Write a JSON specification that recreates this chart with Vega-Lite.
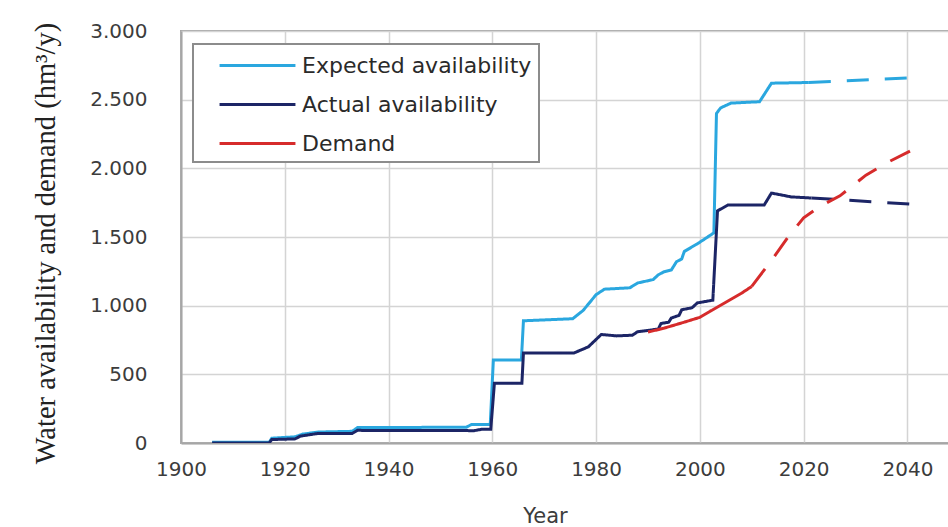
{
  "$schema": "https://vega.github.io/schema/vega-lite/v6.json",
  "autosize": "none",
  "width": 770,
  "height": 412,
  "padding": {"left": 181, "top": 31, "right": 0, "bottom": 84},
  "background": "white",
  "config": {
    "view": {"stroke": "#a6a6a6", "strokeWidth": 2},
    "legend": {"strokeWidth": 2},
    "axis": {
      "labelFont": "DejaVu Sans",
      "labelFontSize": 20,
      "labelColor": "#3c3c3c",
      "ticks": false,
      "domainColor": "#a6a6a6",
      "domainWidth": 2,
      "gridColor": "#d4d4d4",
      "gridWidth": 1.5
    }
  },
  "data": {
    "values": [
      {"series": "Expected availability", "part": "obs", "year": 1906, "value": 5},
      {"series": "Expected availability", "part": "obs", "year": 1917, "value": 5},
      {"series": "Expected availability", "part": "obs", "year": 1917.5, "value": 35},
      {"series": "Expected availability", "part": "obs", "year": 1922, "value": 45},
      {"series": "Expected availability", "part": "obs", "year": 1923.5, "value": 65},
      {"series": "Expected availability", "part": "obs", "year": 1926.5, "value": 80},
      {"series": "Expected availability", "part": "obs", "year": 1933, "value": 85},
      {"series": "Expected availability", "part": "obs", "year": 1934, "value": 112},
      {"series": "Expected availability", "part": "obs", "year": 1955, "value": 115},
      {"series": "Expected availability", "part": "obs", "year": 1956, "value": 135},
      {"series": "Expected availability", "part": "obs", "year": 1959.6, "value": 135},
      {"series": "Expected availability", "part": "obs", "year": 1960.2, "value": 605},
      {"series": "Expected availability", "part": "obs", "year": 1965.6, "value": 605},
      {"series": "Expected availability", "part": "obs", "year": 1966, "value": 890},
      {"series": "Expected availability", "part": "obs", "year": 1975.5, "value": 905},
      {"series": "Expected availability", "part": "obs", "year": 1977.5, "value": 965},
      {"series": "Expected availability", "part": "obs", "year": 1980, "value": 1080},
      {"series": "Expected availability", "part": "obs", "year": 1981.6, "value": 1120},
      {"series": "Expected availability", "part": "obs", "year": 1986.5, "value": 1130},
      {"series": "Expected availability", "part": "obs", "year": 1988, "value": 1165},
      {"series": "Expected availability", "part": "obs", "year": 1991, "value": 1190},
      {"series": "Expected availability", "part": "obs", "year": 1992, "value": 1225},
      {"series": "Expected availability", "part": "obs", "year": 1993, "value": 1245},
      {"series": "Expected availability", "part": "obs", "year": 1994.5, "value": 1260},
      {"series": "Expected availability", "part": "obs", "year": 1995.5, "value": 1320},
      {"series": "Expected availability", "part": "obs", "year": 1996.5, "value": 1340},
      {"series": "Expected availability", "part": "obs", "year": 1997, "value": 1395},
      {"series": "Expected availability", "part": "obs", "year": 1999.5, "value": 1450},
      {"series": "Expected availability", "part": "obs", "year": 2002.7, "value": 1530},
      {"series": "Expected availability", "part": "obs", "year": 2003.2, "value": 2400},
      {"series": "Expected availability", "part": "obs", "year": 2004, "value": 2440},
      {"series": "Expected availability", "part": "obs", "year": 2006, "value": 2475},
      {"series": "Expected availability", "part": "obs", "year": 2011.5, "value": 2485},
      {"series": "Expected availability", "part": "obs", "year": 2013.8, "value": 2620},
      {"series": "Expected availability", "part": "obs", "year": 2021, "value": 2625},
      {"series": "Expected availability", "part": "proj", "year": 2021, "value": 2625},
      {"series": "Expected availability", "part": "proj", "year": 2040.5, "value": 2658},
      {"series": "Actual availability", "part": "obs", "year": 1906, "value": 0},
      {"series": "Actual availability", "part": "obs", "year": 1917, "value": 0},
      {"series": "Actual availability", "part": "obs", "year": 1917.5, "value": 25},
      {"series": "Actual availability", "part": "obs", "year": 1922, "value": 30},
      {"series": "Actual availability", "part": "obs", "year": 1923, "value": 50},
      {"series": "Actual availability", "part": "obs", "year": 1926.5, "value": 70},
      {"series": "Actual availability", "part": "obs", "year": 1933, "value": 70},
      {"series": "Actual availability", "part": "obs", "year": 1934, "value": 92},
      {"series": "Actual availability", "part": "obs", "year": 1956.5, "value": 90},
      {"series": "Actual availability", "part": "obs", "year": 1958, "value": 100},
      {"series": "Actual availability", "part": "obs", "year": 1959.7, "value": 100},
      {"series": "Actual availability", "part": "obs", "year": 1960.4, "value": 435},
      {"series": "Actual availability", "part": "obs", "year": 1965.7, "value": 435},
      {"series": "Actual availability", "part": "obs", "year": 1966, "value": 655},
      {"series": "Actual availability", "part": "obs", "year": 1975.7, "value": 655},
      {"series": "Actual availability", "part": "obs", "year": 1978.5, "value": 700},
      {"series": "Actual availability", "part": "obs", "year": 1981, "value": 790},
      {"series": "Actual availability", "part": "obs", "year": 1984, "value": 780},
      {"series": "Actual availability", "part": "obs", "year": 1987, "value": 785},
      {"series": "Actual availability", "part": "obs", "year": 1988, "value": 810},
      {"series": "Actual availability", "part": "obs", "year": 1990, "value": 820},
      {"series": "Actual availability", "part": "obs", "year": 1992, "value": 830},
      {"series": "Actual availability", "part": "obs", "year": 1992.5, "value": 870},
      {"series": "Actual availability", "part": "obs", "year": 1994, "value": 880},
      {"series": "Actual availability", "part": "obs", "year": 1994.5, "value": 910},
      {"series": "Actual availability", "part": "obs", "year": 1996, "value": 930},
      {"series": "Actual availability", "part": "obs", "year": 1996.5, "value": 970},
      {"series": "Actual availability", "part": "obs", "year": 1998.5, "value": 985},
      {"series": "Actual availability", "part": "obs", "year": 1999.5, "value": 1020},
      {"series": "Actual availability", "part": "obs", "year": 2002.5, "value": 1040},
      {"series": "Actual availability", "part": "obs", "year": 2003.4, "value": 1690},
      {"series": "Actual availability", "part": "obs", "year": 2005.4, "value": 1733},
      {"series": "Actual availability", "part": "obs", "year": 2012.4, "value": 1733},
      {"series": "Actual availability", "part": "obs", "year": 2013.8, "value": 1820},
      {"series": "Actual availability", "part": "obs", "year": 2017.6, "value": 1792},
      {"series": "Actual availability", "part": "obs", "year": 2021.5, "value": 1784},
      {"series": "Actual availability", "part": "proj", "year": 2021.5, "value": 1784},
      {"series": "Actual availability", "part": "proj", "year": 2040.5, "value": 1740},
      {"series": "Demand", "part": "obs", "year": 1990, "value": 808},
      {"series": "Demand", "part": "obs", "year": 1993, "value": 835},
      {"series": "Demand", "part": "obs", "year": 1997, "value": 880},
      {"series": "Demand", "part": "obs", "year": 2000, "value": 915},
      {"series": "Demand", "part": "obs", "year": 2002, "value": 960},
      {"series": "Demand", "part": "obs", "year": 2005, "value": 1025},
      {"series": "Demand", "part": "obs", "year": 2008, "value": 1090},
      {"series": "Demand", "part": "obs", "year": 2010, "value": 1140},
      {"series": "Demand", "part": "proj", "year": 2010, "value": 1140},
      {"series": "Demand", "part": "proj", "year": 2014, "value": 1340},
      {"series": "Demand", "part": "proj", "year": 2017, "value": 1500},
      {"series": "Demand", "part": "proj", "year": 2020, "value": 1640},
      {"series": "Demand", "part": "proj", "year": 2023, "value": 1720},
      {"series": "Demand", "part": "proj", "year": 2027, "value": 1800},
      {"series": "Demand", "part": "proj", "year": 2032, "value": 1950},
      {"series": "Demand", "part": "proj", "year": 2036, "value": 2040},
      {"series": "Demand", "part": "proj", "year": 2040.5, "value": 2125}
    ]
  },
  "mark": {"type": "line", "strokeWidth": 3, "clip": true},
  "encoding": {
    "x": {
      "field": "year",
      "type": "quantitative",
      "scale": {"domain": [1900, 2048.4], "nice": false, "zero": false},
      "axis": {
        "values": [1900, 1920, 1940, 1960, 1980, 2000, 2020, 2040],
        "format": "d",
        "labelFlush": false,
        "labelPadding": 16,
        "title": "Year",
        "titleFont": "DejaVu Sans",
        "titleFontSize": 21,
        "titleFontWeight": "normal",
        "titleColor": "#3c3c3c",
        "titleX": 364,
        "titleY": 79,
        "titleBaseline": "alphabetic"
      }
    },
    "y": {
      "field": "value",
      "type": "quantitative",
      "scale": {"domain": [0, 3000], "nice": false},
      "axis": {
        "values": [0, 500, 1000, 1500, 2000, 2500, 3000],
        "labelExpr": "replace(format(datum.value, ','), ',', '.')",
        "labelPadding": 34,
        "title": "Water availability  and demand (hm³/y)",
        "titleFont": "Liberation Serif",
        "titleFontSize": 28.5,
        "titleFontWeight": "normal",
        "titleColor": "#222222",
        "titleX": -136,
        "titleY": 212,
        "titleBaseline": "middle",
        "titleAngle": 270
      }
    },
    "color": {
      "field": "series",
      "type": "nominal",
      "scale": {
        "domain": ["Expected availability", "Actual availability", "Demand"],
        "range": ["#2aa7df", "#1c2566", "#d62b2b"]
      },
      "legend": {
        "title": null,
        "orient": "none",
        "legendX": 12,
        "legendY": 13,
        "symbolType": "M-3,0H3",
        "symbolSize": 640,
        "symbolStrokeWidth": 3,
        "symbolOffset": 43,
        "labelFont": "DejaVu Sans",
        "labelFontSize": 22,
        "labelLimit": 500,
        "labelColor": "#2a2a2a",
        "labelOffset": 30,
        "rowPadding": 13,
        "padding": 7,
        "strokeColor": "#8c8c8c",
        "fillColor": "white"
      }
    },
    "strokeDash": {
      "field": "part",
      "type": "nominal",
      "scale": {"domain": ["obs", "proj"], "range": [[1, 0], [22, 16]]},
      "legend": null
    }
  }
}
